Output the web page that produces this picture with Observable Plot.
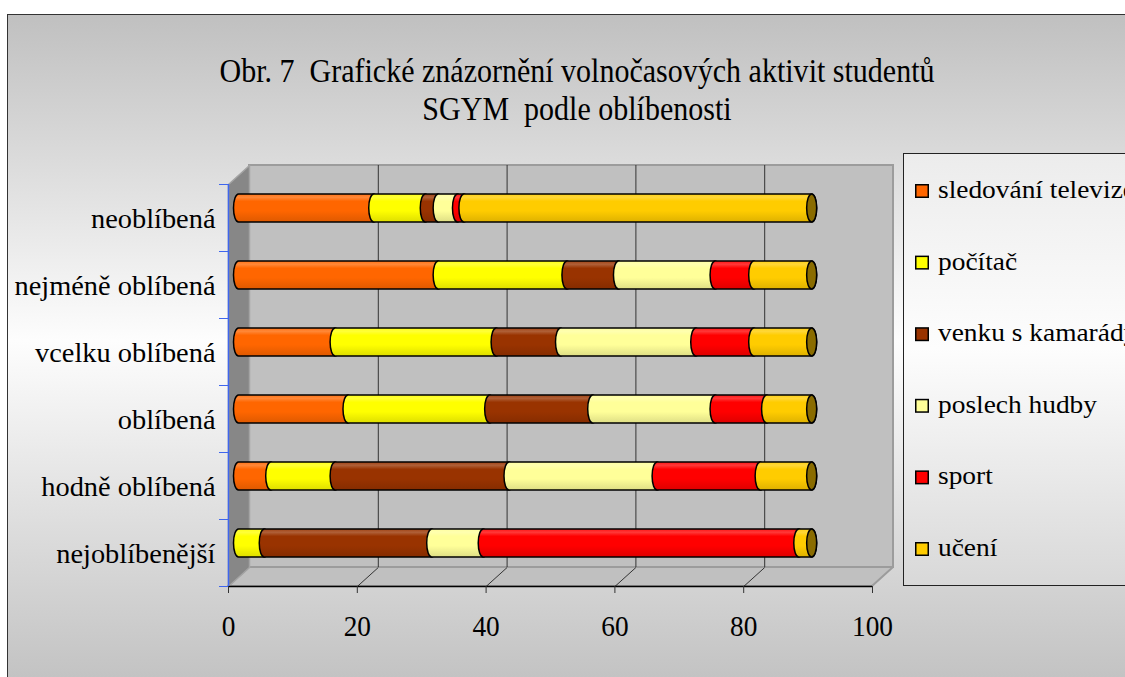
<!DOCTYPE html>
<html>
<head>
<meta charset="utf-8">
<script src="https://cdn.jsdelivr.net/npm/d3@7"></script>
<script src="https://cdn.jsdelivr.net/npm/@observablehq/plot@0.6"></script>
<style>
  html, body { margin: 0; padding: 0; background: #fff; overflow: hidden; }
  #page { position: relative; width: 1125px; height: 677px; overflow: hidden; color: #000;
          font-family: "Liberation Serif", serif; }
  #panel { position: absolute; left: 7px; top: 14px; width: 1200px; height: 700px;
           box-sizing: border-box; border: 1px solid #333;
           background: linear-gradient(to bottom, #c0c0c0 0px, #fdfdfd 326px, #c0c0c0 680px); }
  #chart, #overlay { position: absolute; left: 0; top: 0; }
  #chart text, #overlay text { font-family: "Liberation Serif", serif; }
</style>
</head>
<body>
<div id="page">
  <div id="panel"></div>
</div>
<script>
// Rows of the chart (top to bottom) and the stacked activities
const levels = ["neoblíbená", "nejméně oblíbená", "vcelku oblíbená", "oblíbená", "hodně oblíbená", "nejoblíbenější"];
const activities = ["sledování televize", "počítač", "venku s kamarády", "poslech hudby", "sport", "učení"];
const colors = ["#ff6600", "#ffff00", "#993300", "#ffff99", "#ff0000", "#ffcc00"];

// Number of students per activity, one value per row of `levels`
const televize = [21, 31, 15, 17, 5, 0];
const pocitac  = [8, 20, 25, 22, 10, 4];
const venku    = [2, 8, 10, 16, 27, 26];
const hudba    = [3, 15, 21, 19, 23, 8];
const sport    = [1, 6, 9, 8, 16, 49];
const uceni    = [54, 9, 9, 7, 8, 2];

const xTicks = [0, 20, 40, 60, 80, 100];
const titleLines = ["Obr. 7  Grafické znázornění volnočasových aktivit studentů", "SGYM  podle oblíbenosti"];

const fontStack = `"Liberation Serif", serif`;

// font size giving a wanted ascender height (height of "l") in px
const ascRatio = (() => {
  const ctx = document.createElement("canvas").getContext("2d");
  ctx.font = `100px ${fontStack}`;
  return ctx.measureText("l").actualBoundingBoxAscent / 100 || 0.683;
})();
const sizeFor = asc => +(asc / ascRatio).toFixed(2);
const SIZE = {title: sizeFor(22.8), label: sizeFor(19.3), tick: sizeFor(20.2), legend: sizeFor(16.9)};

// ---- layout -------------------------------------------------------------
const W = 1125, H = 677;
const M = {top: 184, right: 253, bottom: 91, left: 228};
const DEPTH = [21, 19];                 // oblique depth of the 3-D box, px
const kx = (W - M.left - M.right) / 100;
const ky = (H - M.top - M.bottom) / levels.length;
const dX = DEPTH[0] / kx, dY = DEPTH[1] / ky;   // depth in data units
const BAR_HALF = 0.21;                  // half bar thickness, in row units
const AXIS_BLUE = "#3f66ee";
const CAP = "#8a6c00";                  // dark end face of the cylinders
const N = levels.length;

const seriesValues = [televize, pocitac, venku, hudba, sport, uceni];
const rowPos = i => N - 1 - i;
const rows = levels.flatMap((level, i) =>
  activities.map((activity, j) => ({level, activity, value: seriesValues[j][i], row: rowPos(i)}))
).filter(d => d.value > 0);
const totals = levels.map((level, i) => ({level, row: rowPos(i), total: d3.sum(seriesValues, s => s[i])}));

const barY = {
  y1: d => d.row + 0.5 - BAR_HALF,
  y2: d => d.row + 0.5 + BAR_HALF,
  dx: DEPTH[0] / 2,
  dy: -DEPTH[1] / 2
};

const chart = Plot.plot({
  width: W,
  height: H,
  marginTop: M.top,
  marginRight: M.right,
  marginBottom: M.bottom,
  marginLeft: M.left,
  style: {background: "transparent", fontFamily: fontStack, color: "#000", overflow: "visible"},
  x: {domain: [0, 100]},
  y: {domain: [0, N]},
  color: {type: "ordinal", domain: activities, range: activities.map((_, j) => `url(#cyl-${j})`)},
  marks: [
    // back wall
    Plot.rect([0], {x1: 0, x2: 100, y1: 0, y2: N, dx: DEPTH[0], dy: -DEPTH[1],
      fill: "#c0c0c0", stroke: "#9c9c9c", strokeWidth: 2}),
    // floor
    Plot.areaX([{y: 0, a: 0, b: 100}, {y: dY, a: dX, b: 100 + dX}],
      {y: "y", x1: "a", x2: "b", fill: "#c0c0c0", stroke: "#9c9c9c", strokeWidth: 2}),
    // left side wall
    Plot.line([{x: 0, y: 0}, {x: 0, y: N}, {x: dX, y: N + dY}, {x: dX, y: dY}, {x: 0, y: 0}],
      {x: "x", y: "y", fill: "#878787", stroke: "#a4a4a4", strokeWidth: 1.5}),
    // gridlines on the back wall and their traces across the floor
    Plot.ruleX(xTicks.slice(1, -1), {y1: 0, y2: N, dx: DEPTH[0], dy: -DEPTH[1], stroke: "#333", strokeWidth: 1}),
    Plot.link(xTicks.slice(1, -1), {x1: d => d, y1: 0, x2: d => d + dX, y2: dY, stroke: "#333", strokeWidth: 1}),
    // stacked cylinders
    Plot.rect(rows, Plot.stackX({
      x: "value", ...barY, fill: "activity",
      stroke: "#000", strokeWidth: 1.5, rx: 5, ry: 14, insetLeft: -5, insetRight: -5
    })),
    // right end faces
    Plot.rect(totals, {
      x1: "total", x2: "total", ...barY, fill: CAP,
      stroke: "#000", strokeWidth: 1.5, rx: 5, ry: 14, insetLeft: -5, insetRight: -5
    }),
    // value axis
    Plot.ruleY([0], {x1: 0, x2: 100, stroke: "#000", strokeWidth: 1.5}),
    Plot.axisX(xTicks, {tickSize: 7, tickFormat: () => "", stroke: "#333", label: null}),
    Plot.text(xTicks, {x: d => d, y: 0, text: d => String(d), dy: 49 - 0.32 * SIZE.tick,
      fontSize: SIZE.tick, fontFamily: fontStack, fill: "#000"}),
    // category axis
    Plot.ruleX([0], {y1: 0, y2: N, stroke: AXIS_BLUE, strokeWidth: 1.5}),
    Plot.axisY(d3.range(N + 1), {tickSize: 9, tickFormat: () => "", stroke: AXIS_BLUE, label: null}),
    Plot.text(levels, {x: 0, y: (d, i) => rowPos(i) + 0.5, text: d => d, textAnchor: "end",
      dx: -13, dy: 10 - 0.32 * SIZE.label, fontSize: SIZE.label, fontFamily: fontStack, fill: "#000"})
  ]
});
chart.id = "chart";
const page = d3.select("#page");
page.node().appendChild(chart);

// ---- overlay: gradients, title and legend ----------------------------------
const overlay = page.append("svg").attr("id", "overlay")
  .attr("width", W).attr("height", H).style("pointer-events", "none");
const defs = overlay.append("defs");
colors.forEach((c, j) => {
  const g = defs.append("linearGradient").attr("id", `cyl-${j}`)
    .attr("x1", 0).attr("y1", 0).attr("x2", 0).attr("y2", 1);
  const stops = [
    [0, d3.interpolateRgb(c, "#fff")(0.08)],
    [0.12, d3.interpolateRgb(c, "#fff")(0.22)],
    [0.26, c],
    [0.6, c],
    [1, d3.interpolateRgb(c, "#000")(0.13)]
  ];
  for (const [o, col] of stops) g.append("stop").attr("offset", o).attr("stop-color", col);
});
const lg = defs.append("linearGradient").attr("id", "legend-bg")
  .attr("x1", 0).attr("y1", 0).attr("x2", 0).attr("y2", 1);
[[0, "#ececec"], [0.45, "#fdfdfd"], [1, "#d8d8d8"]]
  .forEach(([o, col]) => lg.append("stop").attr("offset", o).attr("stop-color", col));

const title = overlay.append("g")
  .attr("font-size", SIZE.title).attr("text-anchor", "middle");
const titleNodes = titleLines.map((t, i) =>
  title.append("text").attr("x", 577).attr("y", 82 + i * 38).style("white-space", "pre").text(t).node());

const legend = overlay.append("g");
legend.append("rect").attr("x", 903.5).attr("y", 153.5).attr("width", 320).attr("height", 432)
  .attr("fill", "url(#legend-bg)").attr("stroke", "#222").attr("stroke-width", 1);
const legendNodes = activities.map((a, j) => {
  const cy = 191 + j * 71.6;
  legend.append("rect").attr("x", 915.75).attr("y", cy - 6.25).attr("width", 12.5).attr("height", 12.5)
    .attr("fill", colors[j]).attr("stroke", "#000").attr("stroke-width", 1.5);
  return legend.append("text").attr("x", 938).attr("y", cy + 7)
    .attr("font-size", SIZE.legend).text(a).node();
});

// ---- squeeze each text group to the set width of one reference string ----------
function fit(nodes, ref, target) {
  const f = target / ref.getComputedTextLength();
  const widths = nodes.map(n => n.getComputedTextLength());
  nodes.forEach((n, i) => {
    n.setAttribute("textLength", (widths[i] * f).toFixed(2));
    n.setAttribute("lengthAdjust", "spacingAndGlyphs");
  });
}
const chartTexts = Array.from(chart.querySelectorAll("text"));
const labelNodes = chartTexts.filter(n => levels.includes(n.textContent));
const tickNodes = chartTexts.filter(n => xTicks.map(String).includes(n.textContent));
fit(titleNodes, titleNodes[0], 715);
fit(labelNodes, labelNodes.find(n => n.textContent === "nejméně oblíbená"), 201);
fit(legendNodes, legendNodes[3], 159);
fit(tickNodes, tickNodes.find(n => n.textContent === "100"), 41);
</script>
</body>
</html>
